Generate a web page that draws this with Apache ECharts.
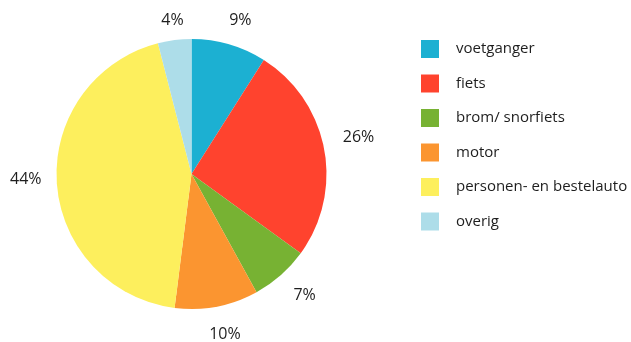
<!DOCTYPE html>
<html>
<head>
<meta charset="utf-8">
<script src="https://cdn.jsdelivr.net/npm/echarts@6/dist/echarts.min.js"></script>
<style>html,body{margin:0;padding:0;background:#fff}#c{width:631px;height:342px}</style>
</head>
<body>
<div id="c"></div>
<script>
var categories = ['voetganger', 'fiets', 'brom/ snorfiets', 'motor', 'personen- en bestelauto', 'overig'];
var values = [9, 26, 7, 10, 44, 4];
var colors = ['#1cb0d2', '#ff432e', '#77b233', '#fb9530', '#fdef5d', '#addde9'];

var chart = echarts.init(document.getElementById('c'), null, {renderer: 'canvas'});
var font = '"Open Sans", "Noto Sans", sans-serif';
var data = categories.map(function (n, i) { return {name: n, value: values[i]}; });

chart.setOption({
  animation: false,
  color: colors,
  legend: {
    orient: 'vertical',
    left: 421,
    top: 40,
    padding: 0,
    itemWidth: 18,
    itemHeight: 18,
    itemGap: 16.5,
    icon: 'rect',
    selectedMode: false,
    data: categories,
    textStyle: {fontFamily: font, fontSize: 15, color: '#1e1e1e', padding: [0, 0, 0, 12]}
  },
  series: [
    {
      type: 'pie',
      center: [191.5, 174],
      radius: [0, 135],
      startAngle: 90,
      clockwise: true,
      silent: true,
      label: {show: false},
      labelLine: {show: false},
      data: data
    },
    {
      type: 'pie',
      center: [193.5, 169],
      radius: [160, 170],
      startAngle: 90,
      clockwise: true,
      silent: true,
      itemStyle: {color: 'rgba(0,0,0,0)'},
      label: {
        show: true,
        position: 'inside',
        formatter: '{c}%',
        fontFamily: font,
        fontSize: 16,
        color: '#1e1e1e'
      },
      labelLine: {show: false},
      labelLayout: function (p) {
        var top = 12, bottom = 343;
        var r = p.labelRect;
        if (r.y < top) return {dy: top - r.y};
        if (r.y + r.height > bottom) return {dy: bottom - r.y - r.height};
        return {};
      },
      data: data
    }
  ]
});
</script>
</body>
</html>
